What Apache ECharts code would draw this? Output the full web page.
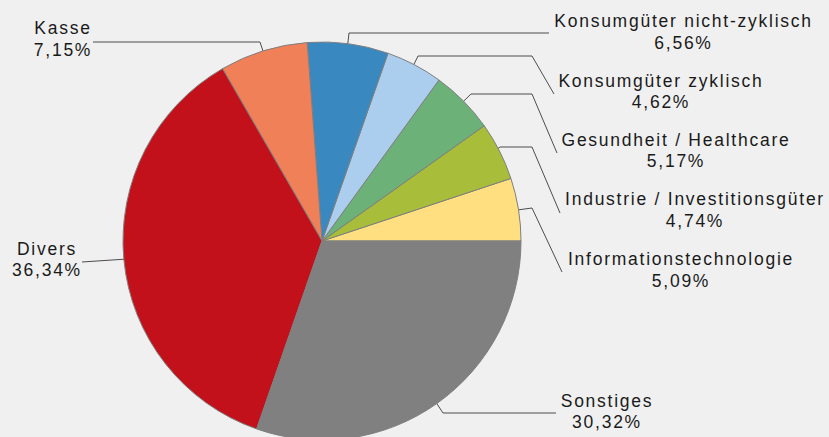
<!DOCTYPE html>
<html>
<head>
<meta charset="utf-8">
<script src="https://cdn.jsdelivr.net/npm/echarts@6/dist/echarts.min.js"></script>
<style>
html, body { margin: 0; padding: 0; background: #f0f0f0; }
#main { width: 829px; height: 437px; }
/* die Beschriftungen im Original sind leicht gesperrt */
#main svg text { letter-spacing: 1.75px; }
</style>
</head>
<body>
<div id="main"></div>
<script>
/**************************** Daten ****************************/
var sectors = ['Informationstechnologie', 'Industrie / Investitionsgüter', 'Gesundheit / Healthcare',
               'Konsumgüter zyklisch', 'Konsumgüter nicht-zyklisch', 'Kasse', 'Divers', 'Sonstiges'];
var shares = [5.09, 4.74, 5.17, 4.62, 6.56, 7.15, 36.34, 30.32];
var colors = ['#ffdf80', '#a8bd3a', '#6cb278', '#acceee', '#3a88c0', '#f08058', '#c3111b', '#808080'];

/**************************** Beschriftung (Lage) ****************************/
var CX = 322, CY = 241, R = 199;
// Mittelpunkt der Beschriftung und Knickpunkte der Führungslinie
var labelPos = [
    {x: 681,   y: 270,   line: [[532, 208], [562, 272]]},
    {x: 695,   y: 210,   line: [[500, 147], [532, 147], [560, 213]]},
    {x: 676,   y: 150.5, line: [[471, 94], [532, 94], [557, 153]]},
    {x: 661,   y: 91.5,  line: [[418, 56], [532, 56], [554, 94]]},
    {x: 683.5, y: 32,    line: [[349, 33], [549, 33]]},
    {x: 63,    y: 39,    line: [[260, 42], [93, 42]]},
    {x: 47,    y: 259.5, line: [[82, 262]]},
    {x: 607,   y: 411.5, line: [[443, 413], [556, 413]]}
];

var total = shares.reduce(function (a, b) { return a + b; }, 0);
function startPoint(idx) {
    var before = 0;
    for (var i = 0; i < idx; i++) before += shares[i];
    var mid = (before + shares[idx] / 2) / total * 2 * Math.PI;
    return [CX + 0.9 * R * Math.cos(mid), CY - 0.9 * R * Math.sin(mid)];
}

var chart = echarts.init(document.getElementById('main'), null, {renderer: 'svg'});
var option = {
    backgroundColor: '#f0f0f0',
    animation: false,
    series: [{
        type: 'pie',
        center: [CX, CY],
        radius: R,
        startAngle: 0,
        clockwise: false,
        avoidLabelOverlap: false,
        itemStyle: {
            borderColor: '#7f7f7f',
            borderWidth: 1
        },
        label: {
            show: true,
            position: 'outer',
            formatter: function (p) {
                return p.name + '\n' + p.value.toFixed(2).replace('.', ',') + '%';
            },
            fontFamily: '"Liberation Sans", Arial, sans-serif',
            fontSize: 17.5,
            lineHeight: 21.5,
            color: '#1a1a1a',
            align: 'center'
        },
        labelLine: {
            show: true,
            lineStyle: { color: '#4d4d4d', width: 1 }
        },
        labelLayout: function (params) {
            var pos = labelPos[params.dataIndex];
            return {
                x: pos.x,
                y: pos.y,
                align: 'center',
                verticalAlign: 'middle',
                labelLinePoints: [startPoint(params.dataIndex)].concat(pos.line)
            };
        },
        data: sectors.map(function (name, i) {
            return { name: name, value: shares[i], itemStyle: { color: colors[i] } };
        })
    }]
};
chart.setOption(option);
</script>
</body>
</html>
